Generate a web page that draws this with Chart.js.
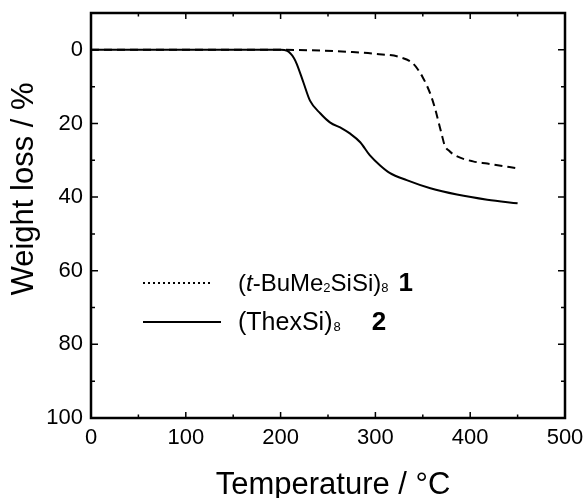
<!doctype html>
<html lang="en">
    <head>
        <meta charset="UTF-8" />
        <title>TGA</title>
        <style>
            body { margin: 0; background: #fff; }
            .chartBox { width: 587px; height: 498px; }
        </style>
    </head>
    <body>
        <div class="chartBox">
            <canvas id="myChart" width="587" height="498"></canvas>
        </div>

        <script src="https://cdn.jsdelivr.net/npm/chart.js"></script>
        <script>
            // data
            const temp1 = [0, 200, 230, 276, 300, 326, 340, 350, 358, 363, 367, 370, 373, 378, 385, 403, 418, 450];
            const loss1 = [0, 0, 0.1, 0.6, 1.1, 2.0, 3.8, 7.5, 12, 16, 20, 23, 25.9, 27.5, 28.8, 30.3, 30.9, 32.2];
            const temp2 = [0, 200, 207, 214, 217, 224, 231, 242, 252, 265, 273, 284, 294, 305, 315, 333, 358, 386, 418, 450];
            const loss2 = [0, 0, 0.3, 2.2, 3.8, 8.8, 13.8, 17.3, 19.7, 21.4, 22.7, 25.1, 28.6, 31.4, 33.4, 35.4, 37.6, 39.3, 40.7, 41.7];
            const xTicks = [0, 100, 200, 300, 400, 500];
            const yTicks = [0, 20, 40, 60, 80, 100];

            const FONT = "'Liberation Sans', Arial, Helvetica, sans-serif";

            const toPoints = (xs, ys) => xs.map((x, i) => ({ x: x, y: ys[i] }));

            // frame + inward ticks + titles + legend
            const decor = {
                id: "decor",
                afterDraw(chart) {
                    const { ctx, chartArea: { left, top, right, bottom }, scales: { x, y } } = chart;
                    ctx.save();
                    ctx.strokeStyle = "#000";
                    ctx.lineWidth = 2.5;
                    ctx.strokeRect(left, top, right - left, bottom - top);

                    ctx.lineWidth = 1.5;
                    ctx.beginPath();
                    for (let v = 50; v < 500; v += 50) {
                        const px = x.getPixelForValue(v);
                        const len = v % 100 === 0 ? 6 : 3.5;
                        ctx.moveTo(px, bottom); ctx.lineTo(px, bottom - len);
                        ctx.moveTo(px, top); ctx.lineTo(px, top + len);
                    }
                    for (let v = 0; v < 100; v += 10) {
                        const py = y.getPixelForValue(v);
                        const len = v % 20 === 0 ? 7 : 4;
                        ctx.moveTo(left, py); ctx.lineTo(left + len, py);
                        ctx.moveTo(right, py); ctx.lineTo(right - len, py);
                    }
                    ctx.stroke();

                    // axis titles
                    ctx.fillStyle = "#000";
                    ctx.font = "31px " + FONT;
                    ctx.textAlign = "center";
                    ctx.textBaseline = "alphabetic";
                    ctx.fillText("Temperature / °C", 333, 494);
                    ctx.save();
                    ctx.translate(33, 189);
                    ctx.rotate(-Math.PI / 2);
                    ctx.fillText("Weight loss / %", 0, 0);
                    ctx.restore();

                    // legend
                    const lx = left + 52;
                    const tx = left + 147;
                    const rows = [
                        { yy: top + 270, dash: [2, 3], x2: left + 122 },
                        { yy: top + 309, dash: [], x2: left + 130 },
                    ];
                    ctx.lineWidth = 2;
                    rows.forEach((r) => {
                        ctx.setLineDash(r.dash);
                        ctx.beginPath();
                        ctx.moveTo(lx, r.yy);
                        ctx.lineTo(r.x2, r.yy);
                        ctx.stroke();
                    });
                    ctx.setLineDash([]);

                    ctx.textAlign = "left";
                    const draw = (parts, x0, base) => {
                        let cx = x0;
                        parts.forEach((p) => {
                            ctx.font = p[1];
                            ctx.fillText(p[0], cx, base + (p[2] || 0));
                            cx += ctx.measureText(p[0]).width + (p[3] || 0);
                        });
                    };
                    const reg = "24px " + FONT;
                    const ita = "italic 24px " + FONT;
                    const sub = "13px " + FONT;
                    const bold = "bold 26px " + FONT;
                    draw([["(", reg], ["t", ita], ["-BuMe", reg], ["2", sub, 1], ["SiSi)", reg], ["8", sub, 1, 10], ["1", bold]], tx, top + 278);
                    draw([["(ThexSi)", "25px " + FONT, 0, 1], ["8", sub, 1, 31], ["2", bold]], tx, top + 317);
                    ctx.restore();
                },
            };

            const config = {
                type: "line",
                data: {
                    datasets: [
                        {
                            label: "(t-BuMe2SiSi)8 1",
                            data: toPoints(temp1, loss1),
                            borderColor: "#000",
                            borderWidth: 2,
                            borderDash: [8, 5],
                            pointRadius: 0,
                            cubicInterpolationMode: "monotone",
                            fill: false,
                        },
                        {
                            label: "(ThexSi)8 2",
                            data: toPoints(temp2, loss2),
                            borderColor: "#000",
                            borderWidth: 2,
                            pointRadius: 0,
                            cubicInterpolationMode: "monotone",
                            fill: false,
                        },
                    ],
                },
                options: {
                    responsive: false,
                    animation: false,
                    layout: { padding: { top: 13, right: 22, left: 0, bottom: 0 } },
                    plugins: { legend: { display: false }, tooltip: { enabled: false } },
                    scales: {
                        x: {
                            type: "linear",
                            min: 0,
                            max: 500,
                            grid: { display: false, drawTicks: false },
                            border: { display: false },
                            afterFit(scale) {
                                scale.height = 80;
                                scale.paddingLeft = 0;
                                scale.paddingRight = 0;
                            },
                            afterBuildTicks(scale) { scale.ticks = xTicks.map((v) => ({ value: v })); },
                            ticks: { color: "#000", padding: 7, font: { size: 22, family: FONT }, maxRotation: 0 },
                        },
                        y: {
                            type: "linear",
                            min: -10,
                            max: 100,
                            reverse: true,
                            grid: { display: false, drawTicks: false },
                            border: { display: false },
                            afterFit(scale) {
                                scale.width = 91;
                                scale.paddingTop = 0;
                                scale.paddingBottom = 0;
                            },
                            afterBuildTicks(scale) { scale.ticks = yTicks.map((v) => ({ value: v })); },
                            ticks: { color: "#000", padding: 8, font: { size: 22, family: FONT } },
                        },
                    },
                },
                plugins: [decor],
            };

            var ctx = document.getElementById("myChart").getContext("2d");
            new Chart(ctx, config);
        </script>
    </body>
</html>
